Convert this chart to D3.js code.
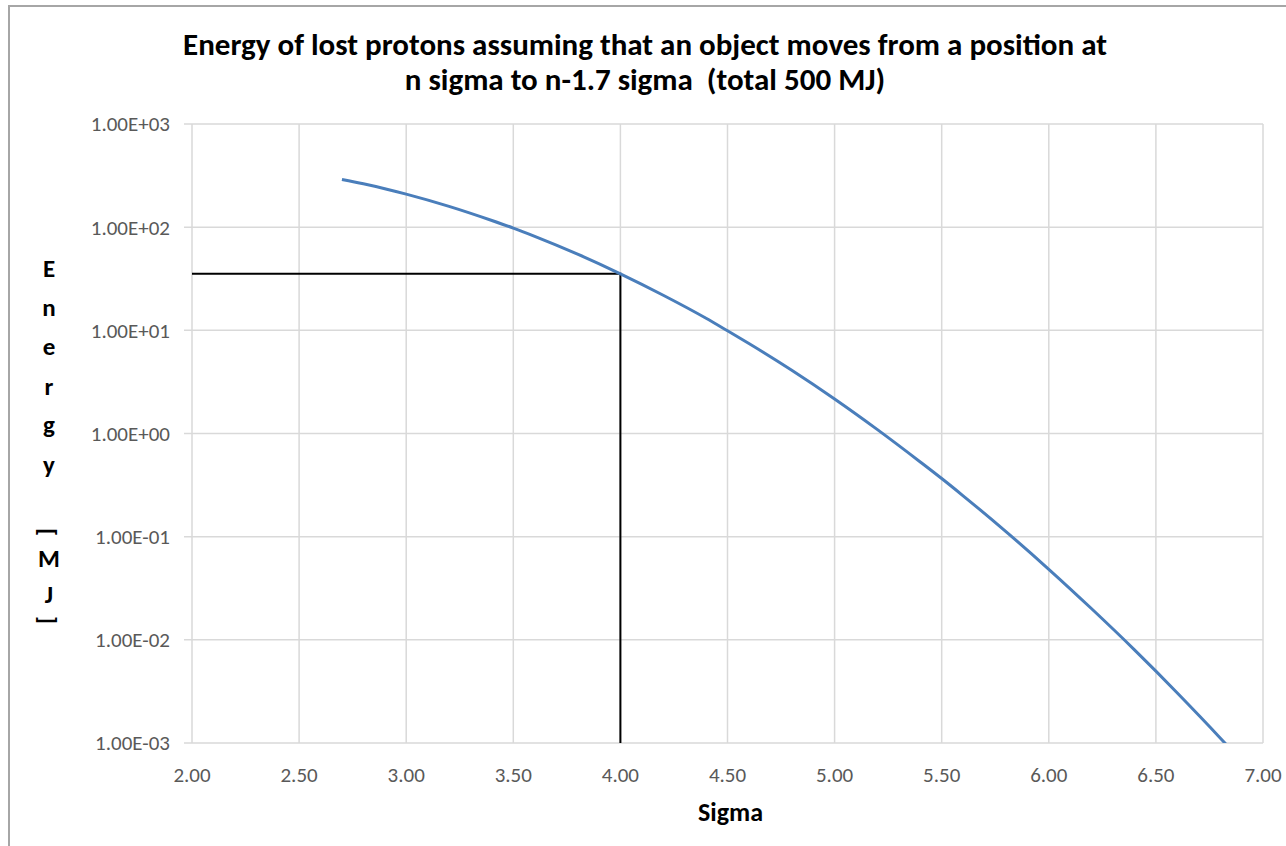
<!DOCTYPE html>
<html>
<head>
<meta charset="utf-8">
<script src="https://cdn.jsdelivr.net/npm/d3@7"></script>
<style>
  html, body { margin: 0; padding: 0; background: #fff; }
  svg text { font-family: Carlito, Calibri, Lato, "Open Sans", sans-serif; }
</style>
</head>
<body>
<svg id="chart" width="1286" height="846"></svg>
<script>
// ---- data ----
const sigma = [2.7, 2.8, 2.9, 3.0, 3.2, 3.4, 3.5, 3.6, 3.8, 4.0, 4.2, 4.4, 4.5, 4.6, 4.8, 5.0, 5.2, 5.4, 5.5, 5.6, 5.8, 6.0, 6.2, 6.4, 6.5, 6.6, 6.8, 6.83];
const energy = [290, 263, 236, 209, 159, 116, 98, 81.6, 54.8, 35.3, 21.9, 13.1, 9.9, 7.45, 4.1, 2.16, 1.09, 0.53, 0.366, 0.249, 0.112, 0.0483, 0.020, 0.0080, 0.00497, 0.00305, 0.00112, 0.00096];
const markerX = [2.0, 4.0, 4.0];
const markerY = [35.3, 35.3, 0.001];
const xTicks = [2.0, 2.5, 3.0, 3.5, 4.0, 4.5, 5.0, 5.5, 6.0, 6.5, 7.0];
const yTicks = [1e3, 1e2, 1e1, 1e0, 1e-1, 1e-2, 1e-3];
const yTickLabels = ["1.00E+03", "1.00E+02", "1.00E+01", "1.00E+00", "1.00E-01", "1.00E-02", "1.00E-03"];
const titleLines = ["Energy of lost protons assuming that an object moves from a position at", "n sigma to n-1.7 sigma  (total 500 MJ)"];
const xTitle = "Sigma";
const yTitle = "Energy [MJ]";

// ---- layout ----
const svg = d3.select("#chart");
const L = 192, R = 1263, T = 124, B = 743;
const x = d3.scaleLinear().domain([2, 7]).range([L, R]);
const y = d3.scaleLog().domain([1e-3, 1e3]).range([B, T]);

// outer border
svg.append("path").attr("d", "M9,846 L9,6 L1286,6")
  .attr("fill", "none").attr("stroke", "#a6a6a6").attr("stroke-width", 2);

// grid
const grid = svg.append("g");
grid.selectAll("line.h").data(yTicks).enter().append("line")
  .attr("x1", L - 8).attr("x2", R).attr("y1", d => y(d)).attr("y2", d => y(d))
  .attr("stroke", "#d9d9d9").attr("stroke-width", 1.5);
grid.selectAll("line.v").data(xTicks).enter().append("line")
  .attr("x1", d => x(d)).attr("x2", d => x(d)).attr("y1", T).attr("y2", B)
  .attr("stroke", "#d9d9d9").attr("stroke-width", 1.5);

// tick labels
svg.append("g").selectAll("text").data(yTicks).enter().append("text")
  .attr("x", 170).attr("y", d => y(d)).attr("dy", "0.35em")
  .attr("text-anchor", "end").attr("font-size", 21).attr("fill", "#595959")
  .text((d, i) => yTickLabels[i]);
svg.append("g").selectAll("text").data(xTicks).enter().append("text")
  .attr("x", d => x(d)).attr("y", 782)
  .attr("text-anchor", "middle").attr("font-size", 21).attr("fill", "#595959")
  .text(d => d3.format(".2f")(d));

// marker lines
const line = d3.line().x(d => x(d[0])).y(d => y(d[1]));
svg.append("path").datum(markerX.map((v, i) => [v, markerY[i]]))
  .attr("d", line).attr("fill", "none").attr("stroke", "#000").attr("stroke-width", 2);

// curve
svg.append("defs").append("clipPath").attr("id", "clip")
  .append("rect").attr("x", L).attr("y", T - 5).attr("width", R - L).attr("height", B - T + 5);
svg.append("path").datum(sigma.map((v, i) => [v, energy[i]]))
  .attr("clip-path", "url(#clip)")
  .attr("d", line.curve(d3.curveMonotoneX)).attr("fill", "none")
  .attr("stroke", "#4a7ebb").attr("stroke-width", 3);

// title
svg.append("g").selectAll("text").data(titleLines).enter().append("text")
  .attr("x", 645).attr("y", (d, i) => 55 + i * 35)
  .attr("text-anchor", "middle").attr("font-size", 31).attr("font-weight", "bold")
  .attr("fill", "#000").style("white-space", "pre").text(d => d);

// x title
svg.append("text").attr("x", x(4.5) + 3).attr("y", 821).attr("text-anchor", "middle")
  .attr("font-size", 26).attr("font-weight", "bold").text(xTitle);

// y title stacked
const chars = yTitle.split("").filter(c => c !== " ");
const ys = [277, 316, 355, 395, 433, 473, 532, 567, 603, 620];
const yt = svg.append("g");
chars.forEach((c, i) => {
  const t = yt.append("text").attr("font-size", 25).attr("font-weight", "bold")
    .attr("text-anchor", "middle").attr("fill", "#000").text(c);
  if (c === "[" || c === "]") {
    t.attr("transform", `translate(49,${ys[i]}) rotate(90)`).attr("dy", "0.35em");
  } else {
    t.attr("x", 49).attr("y", ys[i]);
  }
});
</script>
</body>
</html>
